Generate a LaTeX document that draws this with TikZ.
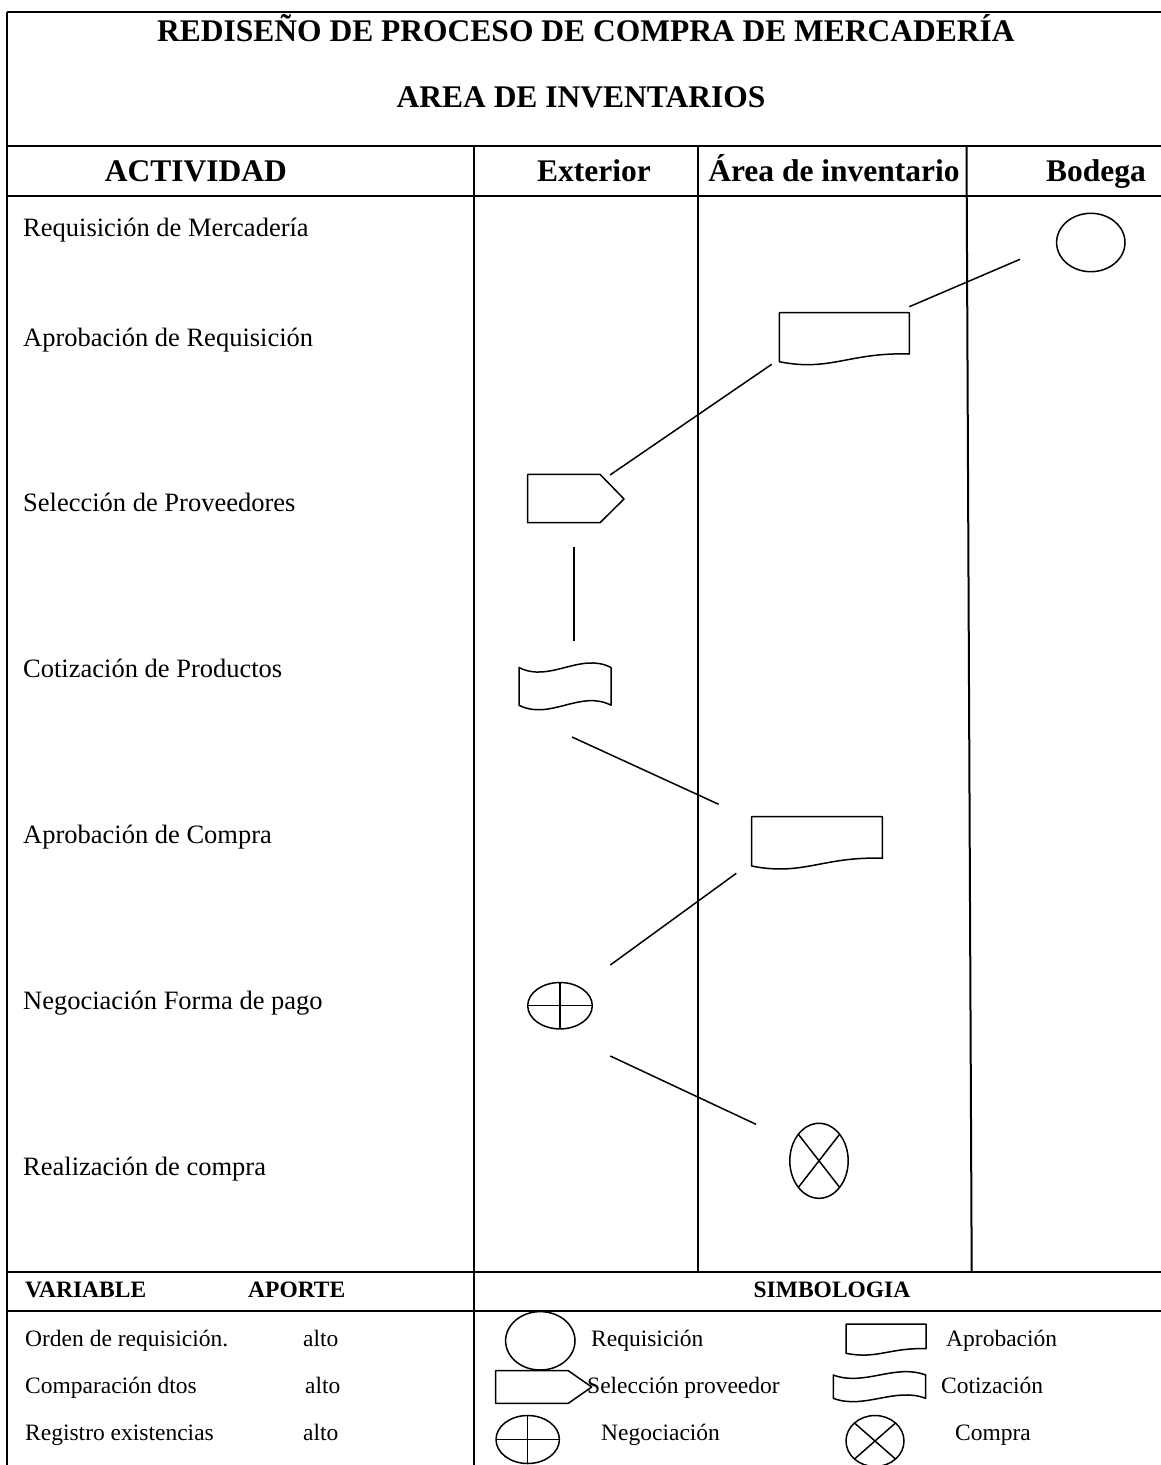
\documentclass[tikz,border=0pt]{standalone}
\usepackage{fontspec}
\setmainfont{Liberation Serif}
\usetikzlibrary{calc}

% Document symbol: box with a wavy lower edge (top-left x, y, width, left height)
\newcommand{\docsym}[4]{%
  \begin{scope}[shift={(#1,#2)}, xscale=#3, yscale=#4]
    \draw[symline] (0,1) -- (0,0) -- (1,0) -- (1,0.843)
      .. controls (0.544,0.802) and (0.39,1.21) .. (0,1) -- cycle;
  \end{scope}}
% Punched-tape symbol: wavy top and bottom (top-left x, y, width, height, wave)
\newcommand{\tapesym}[5]{%
  \begin{scope}[shift={(#1,#2)}, xscale=#3, yscale=#4]
    \draw[symline] (0,0) .. controls (1/3,#5) and (2/3,-#5) .. (1,0) -- (1,1)
      .. controls (2/3,1-#5) and (1/3,1+#5) .. (0,1) -- cycle;
  \end{scope}}

\begin{document}
\begin{tikzpicture}[x=1pt, y=-1pt, line join=round,
  rule/.style={line width=2pt},
  thinrule/.style={line width=1.5pt},
  symline/.style={line width=1.5pt},
  link/.style={line width=1.5pt},
  title/.style={anchor=base, inner sep=0pt, font=\fontsize{31.5}{36}\selectfont\bfseries},
  act/.style={anchor=base west, inner sep=0pt, font=\fontsize{26.5}{31}\selectfont},
  legtext/.style={anchor=base west, inner sep=0pt, font=\fontsize{23.5}{28}\selectfont},
  leghead/.style={anchor=base west, inner sep=0pt, font=\fontsize{23.5}{28}\selectfont\bfseries}]
\useasboundingbox (0,0) rectangle (1160,1465);

% ---- table rules ----
\draw[rule] (7,12) -- (1175,12);
\draw[rule] (7,12) -- (7,1470);
\draw[rule] (7,146) -- (1175,146);
\draw[rule] (7,196) -- (1175,196);
\draw[rule] (7,1272) -- (1175,1272);
\draw[thinrule] (7,1311) -- (1175,1311);
\draw[rule] (473.5,146) -- (473.5,1470);
\draw[rule] (698,146) -- (698,1272);
\draw[rule] (966.5,146) -- (971.7,1272);

% ---- headings ----
\node[title] (t1) at (586,41.7) {REDISEÑO DE PROCESO DE COMPRA DE MERCADERÍA};
\node[title] (t2) at (581,107.5) {AREA DE INVENTARIOS};
\node[title] (h1) at (196,181) {ACTIVIDAD};
\node[title] (h2) at (594,181) {Exterior};
\node[title] (h3) at (834,181) {Área de inventario};
\node[title] (h4) at (1096,181) {Bodega};

% ---- activities ----
\node[act] (a1) at (23,236) {Requisición de Mercadería};
\node[act] (a2) at (23,346) {Aprobación de Requisición};
\node[act] (a3) at (23,511) {Selección de Proveedores};
\node[act] (a4) at (23,677) {Cotización de Productos};
\node[act] (a5) at (23,843) {Aprobación de Compra};
\node[act] (a6) at (23,1009) {Negociación Forma de pago};
\node[act] (a7) at (23,1175) {Realización de compra};

% ---- flow symbols ----
\coordinate (req) at (1090.8,242.5);
\draw[symline] (req) ellipse [x radius=34.2, y radius=29.2];
\docsym{779.3}{312.7}{130}{49}
\draw[symline] (527.7,474.3) -- (600,474.3) -- (624,499) -- (600,522.7) -- (527.7,522.7) -- cycle;
\tapesym{519}{667.5}{92}{37.7}{0.42}
\docsym{751.7}{816.7}{130.6}{49.3}
\coordinate (neg) at (560,1005.7);
\draw[symline] (neg) ellipse [x radius=32.3, y radius=23.2];
\draw[symline] ($(neg)+(-32.3,0)$) -- ($(neg)+(32.3,0)$);
\draw[symline] ($(neg)+(0,-23.2)$) -- ($(neg)+(0,23.2)$);
\coordinate (buy) at (819,1160.8);
\draw[symline] (buy) ellipse [x radius=29.2, y radius=37.5];
\draw[symline] ($(buy)+(-20.6,-26.5)$) -- ($(buy)+(20.6,26.5)$);
\draw[symline] ($(buy)+(20.6,-26.5)$) -- ($(buy)+(-20.6,26.5)$);

% ---- connectors ----
\coordinate (c1a) at (1020,259.3);  \coordinate (c1b) at (909.3,306.7);
\coordinate (c2a) at (771.7,364.3); \coordinate (c2b) at (610,475);
\coordinate (c3a) at (574,546.7);   \coordinate (c3b) at (574,640.7);
\coordinate (c4a) at (572,737);     \coordinate (c4b) at (718.7,804.3);
\coordinate (c5a) at (736.3,873.3); \coordinate (c5b) at (610.3,965);
\coordinate (c6a) at (610.3,1056);  \coordinate (c6b) at (756,1124.3);
\draw[link] (c1a) -- (c1b);
\draw[link] (c2a) -- (c2b);
\draw[link] (c3a) -- (c3b);
\draw[link] (c4a) -- (c4b);
\draw[link] (c5a) -- (c5b);
\draw[link] (c6a) -- (c6b);

% ---- variables ----
\node[leghead] (v0) at (25,1297) {VARIABLE};
\node[leghead] (p0) at (248,1297) {APORTE};
\node[leghead, anchor=base] (s0) at (832,1297) {SIMBOLOGIA};
\node[legtext] (v1) at (25,1346.5) {Orden de requisición.};
\node[legtext] (p1) at (303,1346.5) {alto};
\node[legtext] (v2) at (25,1393.5) {Comparación dtos};
\node[legtext] (p2) at (305,1393.5) {alto};
\node[legtext] (v3) at (25,1440.5) {Registro existencias};
\node[legtext] (p3) at (303,1440.5) {alto};

% ---- legend ----
\coordinate (lreq) at (540.3,1340.8);
\draw[symline] (lreq) ellipse [x radius=34.7, y radius=29.2];
\docsym{846}{1324}{80}{29.3}
\draw[symline] (495.7,1370.7) -- (568.3,1370.7) -- (591.7,1387) -- (568.3,1403.3) -- (495.7,1403.3) -- cycle;
\tapesym{833.3}{1375}{92.4}{23.3}{0.5}
\coordinate (lneg) at (527.7,1439.5);
\draw[symline] (lneg) ellipse [x radius=31.7, y radius=24];
\draw[symline] ($(lneg)+(-31.7,0)$) -- ($(lneg)+(31.7,0)$);
\draw[symline] ($(lneg)+(0,-24)$) -- ($(lneg)+(0,24)$);
\coordinate (lbuy) at (875,1441);
\draw[symline] (lbuy) ellipse [x radius=29, y radius=25.5];
\draw[symline] ($(lbuy)+(-20.5,-18)$) -- ($(lbuy)+(20.5,18)$);
\draw[symline] ($(lbuy)+(20.5,-18)$) -- ($(lbuy)+(-20.5,18)$);

\node[legtext] (l1) at (591,1346.5) {Requisición};
\node[legtext] (l2) at (946,1346.5) {Aprobación};
\node[legtext] (l3) at (587,1393.5) {Selección proveedor};
\node[legtext] (l4) at (941,1393.5) {Cotización};
\node[legtext] (l5) at (601,1440.5) {Negociación};
\node[legtext] (l6) at (955,1440.5) {Compra};
\end{tikzpicture}
\end{document}
